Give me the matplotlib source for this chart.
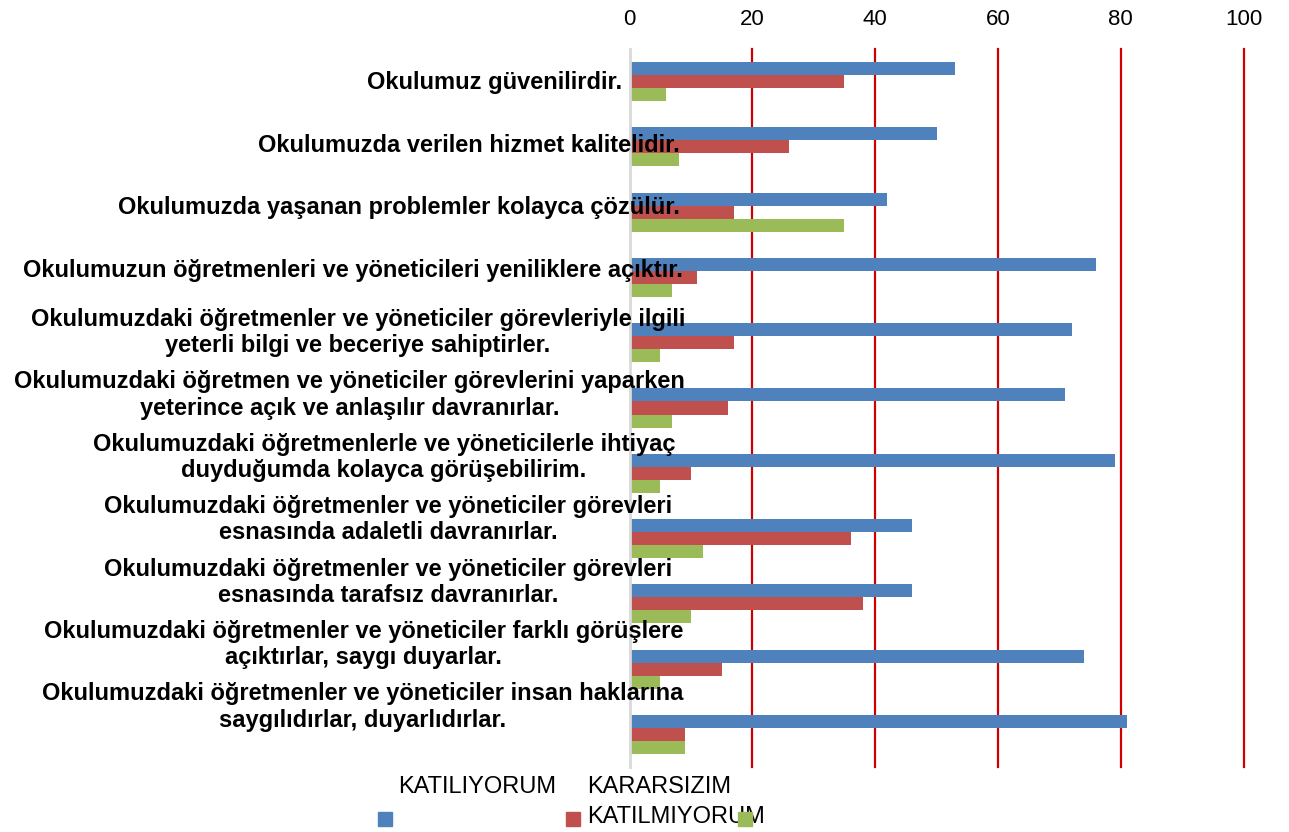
import matplotlib
matplotlib.use("Agg")
import matplotlib.pyplot as plt
import numpy as np
from matplotlib.patches import Rectangle

# ---- data ----
categories = [
    "Okulumuz güvenilirdir.",
    "Okulumuzda verilen hizmet kalitelidir.",
    "Okulumuzda yaşanan problemler kolayca çözülür.",
    "Okulumuzun öğretmenleri ve yöneticileri yeniliklere açıktır.",
    "Okulumuzdaki öğretmenler ve yöneticiler görevleriyle ilgili\nyeterli bilgi ve beceriye sahiptirler.",
    "Okulumuzdaki öğretmen ve yöneticiler görevlerini yaparken\nyeterince açık ve anlaşılır davranırlar.",
    "Okulumuzdaki öğretmenlerle ve yöneticilerle ihtiyaç\nduyduğumda kolayca görüşebilirim.",
    "Okulumuzdaki öğretmenler ve yöneticiler görevleri\nesnasında adaletli davranırlar.",
    "Okulumuzdaki öğretmenler ve yöneticiler görevleri\nesnasında tarafsız davranırlar.",
    "Okulumuzdaki öğretmenler ve yöneticiler farklı görüşlere\naçıktırlar, saygı duyarlar.",
    "Okulumuzdaki öğretmenler ve yöneticiler insan haklarına\nsaygılıdırlar, duyarlıdırlar.",
]
katiliyorum = [53, 50, 42, 76, 72, 71, 79, 46, 46, 74, 81]
kararsizim = [35, 26, 17, 11, 17, 16, 10, 36, 38, 15, 9]
katilmiyorum = [6, 8, 35, 7, 5, 7, 5, 12, 10, 5, 9]
series_names = ["KATILIYORUM", "KARARSIZIM", "KATILMIYORUM"]
x_ticks = [0, 20, 40, 60, 80, 100]

# ---- style / layout ----
colors = ["#4F81BD", "#C0504D", "#9BBB59"]
W, H = 1289, 832
# right edge (px) of each category label, as rendered in the reference
label_right_px = [622, 680, 680, 683, 685, 685, 675, 672, 672, 683, 683]
label_top_center_px = 83.0
label_step_px = 62.4

plt.rcParams["font.family"] = ["Liberation Sans", "DejaVu Sans"]

fig = plt.figure(figsize=(W / 100, H / 100), dpi=100)
ax_left, ax_right = 629.5 / W, 1243.5 / W
ax_top, ax_bottom = 1 - 49 / H, 1 - 767 / H
ax = fig.add_axes([ax_left, ax_bottom, ax_right - ax_left, ax_top - ax_bottom])

n = len(categories)
y = np.arange(n)
bh = 0.2
for k, (vals, c) in enumerate(zip([katiliyorum, kararsizim, katilmiyorum], colors)):
    ax.barh(y + (k - 1) * bh, vals, height=bh, color=c, zorder=2, linewidth=0)

ax.set_xlim(0, 100)
ax.set_ylim(n - 0.5, -0.5)
ax.xaxis.tick_top()
ax.set_xticks(x_ticks)
ax.set_xticklabels([str(t) for t in x_ticks], fontsize=16)
ax.tick_params(axis="x", length=0, pad=14)
ax.set_yticks([])
for s in ax.spines.values():
    s.set_visible(False)
for t in x_ticks[1:]:
    ax.axvline(t, color="#D00000", lw=1.6, zorder=1, clip_on=False)
ax.axvline(0, color="#D9D9D9", lw=2, zorder=3, clip_on=False)

# category labels
for i, lab in enumerate(categories):
    ypx = label_top_center_px + i * label_step_px
    fig.text(label_right_px[i] / W, 1 - ypx / H, lab, ha="right", va="center",
             multialignment="center", fontsize=17, fontweight="bold",
             linespacing=1.17, color="black", zorder=5)

# legend (manual, reproduces reference layout)
def sq(xpx, ypx, c):
    fig.patches.append(Rectangle((xpx / W, 1 - (ypx + 14) / H), 14 / W, 14 / H,
                                 transform=fig.transFigure, color=c, zorder=6))

fig.text(398 / W, 1 - 787 / H, series_names[0], fontsize=17, va="center", ha="left")
fig.text(587 / W, 1 - 787 / H, series_names[1], fontsize=17, va="center", ha="left")
fig.text(587 / W, 1 - 817 / H, series_names[2], fontsize=17, va="center", ha="left")
sq(378, 812, colors[0])
sq(566, 812, colors[1])
sq(738, 812, colors[2])

fig.savefig("out.png", dpi=100)
